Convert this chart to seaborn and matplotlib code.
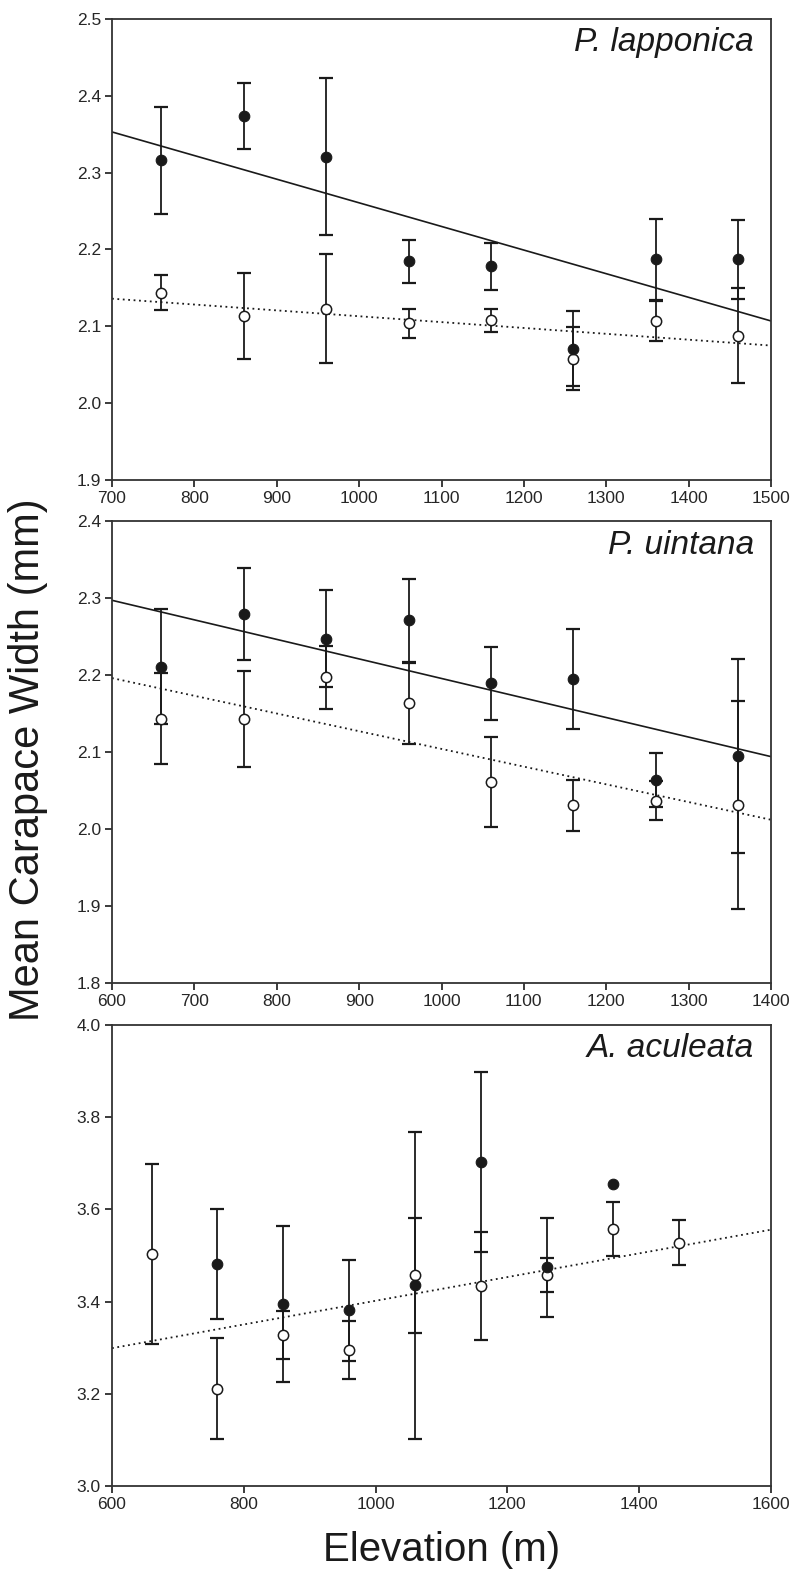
import numpy as np
import pandas as pd
import matplotlib
matplotlib.use("Agg")
import matplotlib.pyplot as plt
from matplotlib import font_manager
import seaborn as sns

# ---------------- data ----------------
species = ["P. lapponica", "P. uintana", "A. aculeata"]

elev1 = [760, 860, 960, 1060, 1160, 1260, 1360, 1460]
filled1 = [2.316, 2.374, 2.321, 2.185, 2.178, 2.071, 2.187, 2.187]
filled1_err = [0.070, 0.043, 0.102, 0.028, 0.031, 0.049, 0.053, 0.052]
open1 = [2.144, 2.114, 2.123, 2.104, 2.108, 2.058, 2.107, 2.088]
open1_err = [0.023, 0.056, 0.071, 0.019, 0.015, 0.041, 0.026, 0.062]
fit1_x = [700, 1500]
fit1_filled = [2.353, 2.107]
fit1_open = [2.136, 2.075]

elev2 = [660, 760, 860, 960, 1060, 1160, 1260, 1360]
filled2 = [2.211, 2.279, 2.247, 2.271, 2.189, 2.195, 2.064, 2.095]
filled2_err = [0.075, 0.060, 0.063, 0.054, 0.048, 0.065, 0.035, 0.126]
open2 = [2.143, 2.143, 2.197, 2.163, 2.061, 2.031, 2.037, 2.031]
open2_err = [0.059, 0.062, 0.041, 0.053, 0.059, 0.033, 0.025, 0.135]
fit2_x = [600, 1400]
fit2_filled = [2.297, 2.094]
fit2_open = [2.196, 2.012]

elev3 = [660, 760, 860, 960, 1060, 1160, 1260, 1360, 1460]
filled3 = [np.nan, 3.481, 3.395, 3.381, 3.435, 3.702, 3.474, 3.655, np.nan]
filled3_err = [np.nan, 0.119, 0.170, 0.110, 0.333, 0.195, 0.108, np.nan, np.nan]
open3 = [3.503, 3.211, 3.328, 3.295, 3.457, 3.434, 3.457, 3.558, 3.528]
open3_err = [0.196, 0.109, 0.052, 0.062, 0.125, 0.117, 0.037, 0.058, 0.049]
fit3_x = [600, 1600]
fit3_filled = None
fit3_open = [3.299, 3.556]

xlims = [(700, 1500), (600, 1400), (600, 1600)]
xticks = [list(range(700, 1501, 100)), list(range(600, 1401, 100)), list(range(600, 1601, 200))]
ylims = [(1.9, 2.5), (1.8, 2.4), (3.0, 4.0)]
yticks = [[1.9, 2.0, 2.1, 2.2, 2.3, 2.4, 2.5],
          [1.8, 1.9, 2.0, 2.1, 2.2, 2.3, 2.4],
          [3.0, 3.2, 3.4, 3.6, 3.8, 4.0]]

panels = [
    (elev1, filled1, filled1_err, open1, open1_err, fit1_x, fit1_filled, fit1_open),
    (elev2, filled2, filled2_err, open2, open2_err, fit2_x, fit2_filled, fit2_open),
    (elev3, filled3, filled3_err, open3, open3_err, fit3_x, fit3_filled, fit3_open),
]

# ---------------- style ----------------
sns.set_style("ticks")
plt.rcParams['font.family'] = ['Liberation Sans', 'DejaVu Sans']
installed = {f.name for f in font_manager.fontManager.ttflist}
narrow = [f for f in ['Liberation Sans Narrow', 'Liberation Sans', 'DejaVu Sans'] if f in installed]

W, H = 793, 1575
fig = plt.figure(figsize=(W / 100, H / 100), dpi=100)

left = 112 / W
width = (771 - 112) / W
boxes = [(19, 480), (521, 983), (1025, 1486)]
ink = "#1a1a1a"

for i, (elev, fm, fe, om, oe, fx, ff, fo) in enumerate(panels):
    top_px, bot_px = boxes[i]
    ax = fig.add_axes([left, 1 - bot_px / H, width, (bot_px - top_px) / H])

    # regression lines
    if ff is not None:
        sns.lineplot(x=fx, y=ff, ax=ax, color=ink, lw=1.2, zorder=2)
    if fo is not None:
        sns.lineplot(x=fx, y=fo, ax=ax, color=ink, lw=1.3, linestyle=(0, (1, 2)), zorder=2)

    # error bars
    ax.errorbar(elev, om, yerr=oe, fmt='none', ecolor=ink, elinewidth=1.3,
                capsize=4.8, capthick=1.6, zorder=3)
    ax.errorbar(elev, fm, yerr=fe, fmt='none', ecolor=ink, elinewidth=1.3,
                capsize=4.8, capthick=1.6, zorder=3)

    # points
    dfo = pd.DataFrame({"elev": elev, "m": om})
    dff = pd.DataFrame({"elev": elev, "m": fm}).dropna()
    sns.scatterplot(data=dfo, x="elev", y="m", ax=ax, s=55, color="white",
                    edgecolor=ink, linewidth=1.1, zorder=4, legend=False)
    sns.scatterplot(data=dff, x="elev", y="m", ax=ax, s=58, color=ink,
                    edgecolor=ink, linewidth=0.8, zorder=5, legend=False)

    ax.set_xlim(*xlims[i])
    ax.set_ylim(*ylims[i])
    ax.set_xticks(xticks[i])
    ax.set_yticks(yticks[i])
    ax.set_xticklabels([str(t) for t in xticks[i]], fontfamily=narrow, fontsize=12.5)
    ax.set_yticklabels([f"{t:.1f}" for t in yticks[i]], fontfamily=narrow, fontsize=12.5)
    ax.tick_params(direction='out', length=5, width=1.2, color=ink, pad=3)
    for sp in ax.spines.values():
        sp.set_visible(True)
        sp.set_linewidth(1.3)
        sp.set_color("#333333")
    ax.set_xlabel("")
    ax.set_ylabel("")
    ax.text(0.974, 0.948, species[i], transform=ax.transAxes, ha='right', va='center',
            fontsize=24, style='italic', color=ink)

fig.text(28 / W, 1 - 760 / H, "Mean Carapace Width (mm)", rotation=90,
         ha='center', va='center', fontsize=30, color=ink)
fig.text((112 + 771) / 2 / W, 1 - 1550 / H, "Elevation (m)",
         ha='center', va='center', fontsize=29, color=ink)

fig.savefig("out.png", dpi=100)
